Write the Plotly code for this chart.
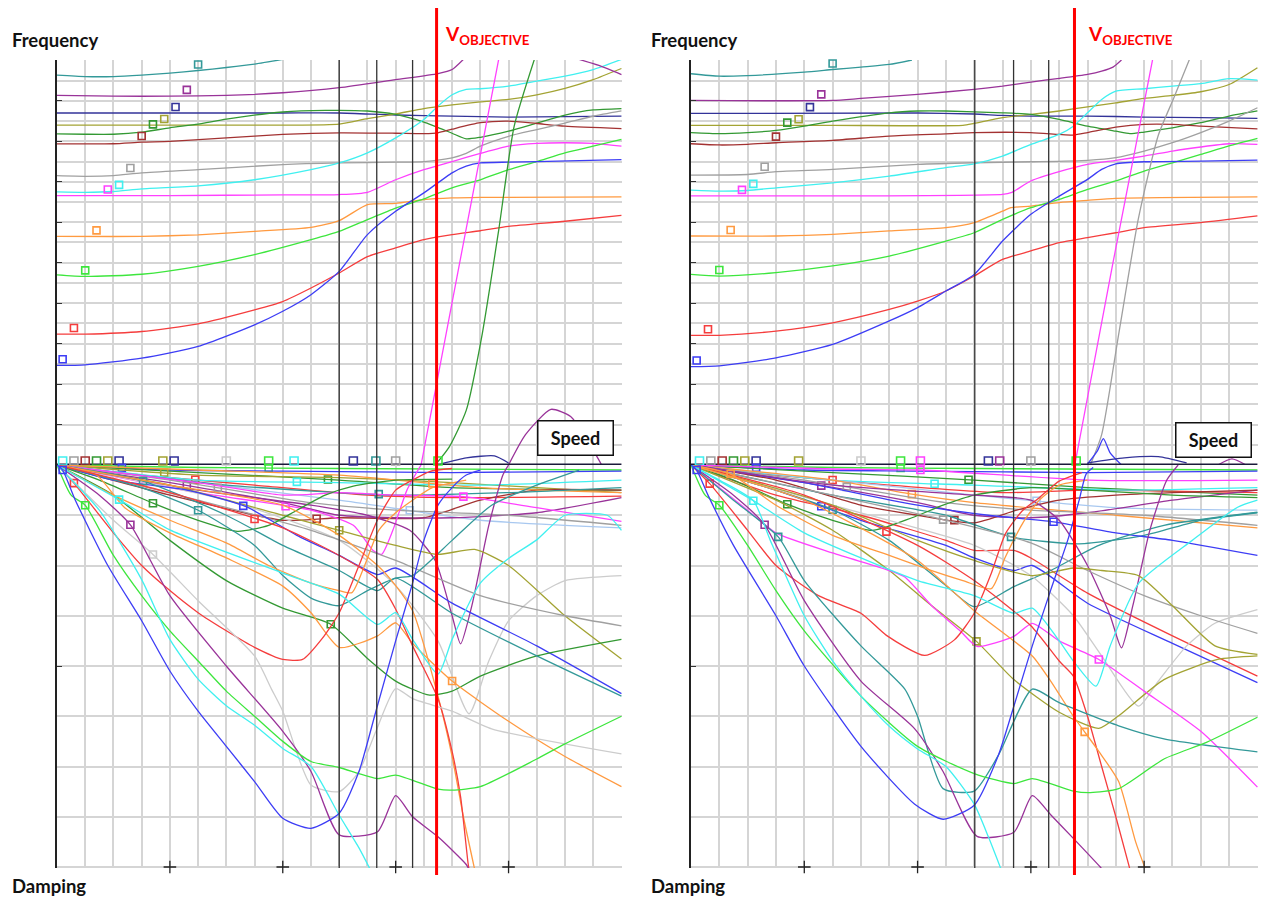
import numpy as np
import plotly.graph_objects as go

# ============================ DATA (grid units) ============================
# x: speed (0..20 grid units), frequency y: 0..20 grid units, damping y: 0..-8 grid units

# ---- Left panel : frequency
LF_TEAL = [(0,19.27),(1,19.2),(2,19.2),(3,19.27),(4,19.37),(5,19.5),(6,19.65),(7,19.82),(8,20.05)]
LF_PURPLE = [(0,18.27),(2,18.23),(4,18.23),(6,18.27),(8,18.4),(10,18.65),(12,19.05),(13.5,19.35),(14,19.55),(14.4,20.05)]
LF_NAVY = [(0,17.4),(4,17.4),(8,17.4),(10,17.4),(12,17.3),(14,17.25),(16,17.2),(18,17.22),(20,17.25)]
LF_OLIVE = [(0,16.8),(4,16.8),(8,16.8),(10,16.85),(11,17.12),(12,17.35),(13,17.62),(14,17.8),(15,17.95),(16,18.07),(17,18.3),(18,18.62),(19,19.05),(20,19.6)]
LF_DKGREEN = [(0,16.37),(1,16.35),(2,16.35),(3,16.45),(4,16.67),(5,16.85),(6,17.1),(8,17.45),(9.5,17.53),(11,17.5),(12,17.33),(13,16.95),(14,16.4),(14.5,16.12),(15,16.2),(16,16.5),(17,16.9),(18,17.3),(19,17.55),(20,17.62)]
LF_DKRED = [(0,15.87),(2,15.88),(3,15.96),(4,16.0),(6,16.17),(8,16.34),(10,16.42),(12,16.4),(13,16.38),(13.5,16.42),(14,16.6),(15,16.92),(16,17.0),(17,16.88),(18,16.75),(20,16.63)]
LF_GRAY = [(0,14.3),(1,14.27),(2,14.3),(3,14.44),(5,14.6),(8,14.85),(10,14.93),(12,14.97),(13,15.0),(14,15.18),(14.5,15.4),(15,15.76),(16,16.25),(17,16.58),(18,16.9),(19,17.24),(20,17.5)]
LF_CYAN = [(0,13.5),(1,13.48),(2,13.52),(3,13.65),(5,13.8),(7,14.1),(9,14.6),(10,14.93),(11,15.43),(12,16.17),(13,17.08),(13.5,17.74),(14,18.3),(14.5,18.57),(15,18.6),(16,18.73),(17,18.98),(18,19.22),(19,19.55),(20,20.05)]
LF_MAGENTA = [(0,13.32),(4,13.32),(8,13.35),(10,13.37),(11,13.48),(12,14.1),(13,14.6),(14,15.0),(15,15.4),(16,15.76),(17,15.9),(18,15.93),(19,15.9),(20,15.76)]
LF_ORANGE = [(0,11.3),(3,11.3),(5,11.38),(7,11.55),(9,11.75),(10,12.08),(11,12.87),(12,12.93),(13,13.12),(14,13.2),(15,13.23),(20,13.25)]
LF_LIME = [(0,9.4),(1,9.32),(3,9.43),(5,9.82),(7,10.4),(9,11.14),(10,11.55),(11,12.13),(12,12.7),(13,13.15),(14,13.7),(15,14.1),(16,14.6),(17,15.0),(18,15.43),(19,15.76),(20,16.1)]
LF_RED = [(0,6.47),(1,6.47),(3,6.6),(5,6.98),(7,7.67),(8,8.08),(9,8.75),(10,9.49),(11,10.3),(12,10.73),(13,11.14),(14,11.39),(15,11.58),(16,11.8),(18,12.05),(20,12.34)]
LF_BLUE = [(0,4.92),(1,4.95),(3,5.28),(5,5.86),(7,6.93),(8,7.6),(9,8.42),(10,9.57),(11,11.39),(12,12.54),(13,13.45),(14,14.44),(14.5,14.77),(15,14.93),(16,14.97),(17,15.0),(20,15.1)]
LF_MAG_STEEP = [(12.9,0),(14.2,9.5),(15.65,20.05)]
LF_DKGREEN_STEEP = [(13.4,0),(13.9,0.9),(14.5,2.7),(15.07,6.5),(15.65,11.6),(16.2,16.75),(16.95,20.2)]
LF_PURPLE_ARC = [(16.0,0),(16.6,1.5),(17.5,2.75),(18.2,2.4),(18.8,1.2),(19.3,0)]
LF_PURPLE_TOP = [(18.5,20.05),(19.2,19.75),(20,19.3)]
LF_NAVY_ARC = [(13.6,0.05),(14.5,0.35),(15.5,0.45),(16.0,0.1)]
LF_ZERO_MARK_X = [0.2,0.6,1.0,1.4,1.8,2.2,3.75,4.15,6.0,7.5,8.4,10.5,11.3,12.0,13.5]

# ---- Right panel : frequency
RF_TEAL = [(0,19.34),(1,19.22),(2,19.25),(4,19.42),(5,19.55),(6,19.67),(7,19.8),(7.8,20.02)]
RF_PURPLE = [(0,18.02),(5,18.02),(6,18.12),(8,18.32),(10,18.57),(11,18.73),(12,18.93),(13,19.11),(14,19.31),(14.5,19.47),(14.9,19.67),(15.2,20.02)]
RF_NAVY = [(0,17.38),(8,17.4),(10,17.35),(11,17.28),(12,17.25),(14,17.25),(16,17.2),(18,17.17),(20,17.13)]
RF_OLIVE = [(0,16.79),(5,16.79),(9.6,16.79),(10,16.89),(11,17.17),(12,17.33),(13,17.5),(14,17.7),(15,17.9),(16,18.12),(17,18.27),(18,18.45),(19,18.81),(20,19.64)]
RF_DKGREEN = [(0,16.43),(1,16.38),(2,16.43),(3,16.54),(4,16.75),(5,17.0),(7,17.41),(8,17.5),(9,17.5),(11,17.41),(12,17.33),(13,17.08),(14,16.75),(15,16.5),(15.5,16.38),(16,16.46),(17,16.67),(18,16.92),(19,17.25),(20,17.5)]
RF_DKRED = [(0,15.88),(1,15.82),(2,15.85),(3,15.93),(5,16.05),(7,16.26),(9,16.37),(10,16.43),(12,16.43),(13,16.34),(13.5,16.31),(14,16.43),(15,16.7),(16,16.84),(17,16.84),(18,16.75),(20,16.62)]
RF_GRAY = [(0,14.33),(2,14.36),(3,14.5),(5,14.61),(8,14.86),(10,14.94),(12,14.99),(14,15.06),(15,15.19),(16,15.52),(17,15.93),(18,16.43),(19,17.0),(20,17.66)]
RF_CYAN = [(0,13.59),(1,13.54),(2,13.57),(3,13.7),(5,13.95),(7,14.28),(9,14.7),(10,14.89),(11,15.27),(12,15.85),(13,16.34),(13.5,16.75),(14,17.41),(14.5,18.07),(15,18.48),(16,18.6),(17,18.73),(18,18.85),(19,19.1),(20,19.03)]
RF_MAGENTA = [(0,13.3),(5,13.3),(11,13.38),(11.3,13.46),(12,14.04),(13,14.5),(14,14.86),(15,15.06),(16,15.27),(17,15.52),(18,15.72),(19,15.88),(20,15.85)]
RF_ORANGE = [(0,11.32),(3,11.32),(5,11.4),(7,11.57),(9,11.73),(10,11.98),(11,12.55),(11.3,12.72),(12,12.8),(13,12.97),(14,13.08),(15,13.18),(20,13.25)]
RF_LIME = [(0,9.42),(1,9.34),(3,9.51),(5,9.84),(7,10.33),(9,11.07),(10,11.48),(11,12.14),(12,12.72),(13,13.13),(14,13.62),(15,14.04),(16,14.53),(17,14.94),(18,15.35),(19,15.77),(20,16.14)]
RF_RED = [(0,6.41),(1,6.41),(3,6.62),(5,7.03),(7,7.69),(8,8.1),(9,8.6),(10,9.34),(11,10.16),(12,10.58),(13,10.99),(14,11.24),(15,11.48),(16,11.73),(18,11.98),(20,12.31)]
RF_BLUE = [(0,4.86),(1,4.9),(3,5.3),(5,5.96),(7,7.12),(8,7.78),(9,8.6),(10,9.42),(11,11.07),(12,12.39),(13,13.29),(14,14.12),(14.5,14.61),(15,14.89),(16,14.99),(18,15.02),(20,15.07)]
RF_MAG_STEEP = [(13.55,0),(14.9,10),(16.3,20.05)]
RF_GRAY_STEEP = [(14.1,0),(14.5,1.5),(15.1,6.46),(15.8,12.2),(16.5,16.3),(17.05,18.15),(17.6,20.05)]
RF_BLUE_SPIKE = [(14.0,0.05),(14.35,0.7),(14.56,1.3),(14.8,0.6),(15.2,0.0)]
RF_NAVY_ARC = [(14.0,0.1),(15.3,0.35),(16.5,0.41),(17.5,0.1)]
RF_PURPLE_ARC = [(18.6,0),(19.1,0.3),(19.6,0)]
RF_ZERO_MARK_X = [0.3,0.7,1.1,1.5,1.9,2.3,3.8,6.0,7.4,8.1,10.5,10.9,12.0,13.6]

# ---- Left panel : damping
LD_BLUE = [(0,0),(0.2,-0.1),(0.65,-0.7),(1.8,-2.0),(3,-3.1),(4,-4.1),(5,-4.9),(6,-5.6),(7,-6.3),(8,-7.03),(9,-7.23),(10,-6.93),(10.7,-6.1),(11.3,-4.9),(12,-3.5),(12.6,-2.35),(13,-1.5),(13.5,-0.8),(14,-0.45),(14.5,-0.2),(15,-0.1)]
LD_CYAN = [(0,0),(1.5,-0.9),(3,-2.28),(4,-3.47),(5,-4.26),(6,-4.79),(7,-5.18),(8,-5.64),(9,-6.0),(10,-6.97),(10.7,-7.62),(11.1,-8.05)]
LD_CYAN_V = [(0,0),(2.2,-0.69),(4,-1.29),(8,-2.15),(10,-2.57),(11.36,-3.17),(12,-2.94),(12.6,-3.47),(13.5,-4.16),(14,-3.47),(15,-2.35),(16,-1.86),(17,-1.49),(18,-1.0),(19.5,-1.0),(20,-1.3)]
LD_LIME = [(0,0),(0.5,-0.6),(1,-0.8),(2,-1.8),(3,-2.6),(4,-3.3),(5,-3.9),(6,-4.5),(7,-5.0),(8,-5.5),(9,-5.9),(10,-6.02),(11.36,-6.24),(12,-6.17),(13.5,-6.45),(14,-6.47),(15,-6.4),(17,-5.85),(18,-5.55),(20,-5.0)]
LD_PURPLE = [(0,0),(1.5,-0.6),(2.6,-1.19),(4,-2.6),(6,-4.0),(8,-5.3),(9,-6.1),(10,-7.36),(11.36,-7.3),(12,-6.58),(12.6,-7.0),(13.5,-7.4),(14.5,-7.95),(14.6,-8.05)]
LD_LTGRAY = [(0,0),(2,-1.1),(3.4,-1.78),(5,-2.7),(7,-3.8),(7.6,-4.46),(8,-4.9),(9,-6.37),(10,-6.5),(10.7,-6.1),(11.3,-5.3),(12,-4.45),(12.6,-4.65),(14,-4.9),(15.4,-5.25),(20,-5.75)]
LD_RED_BOWL = [(0,0),(0.6,-0.36),(2,-1.35),(3,-2.0),(4,-2.5),(5,-2.94),(6,-3.3),(7,-3.63),(8,-3.87),(8.7,-3.87),(9.4,-3.45),(10,-2.94),(10.7,-2.0),(11.36,-1.09),(12,-0.5),(12.6,-0.3),(13.2,-0.13),(14,-0.07)]
LD_RED_STEEP = [(0,0),(4,-0.55),(8,-1.25),(10,-1.8),(11.36,-2.28),(12,-2.87),(12.6,-3.6),(13.5,-4.65),(14,-5.7),(14.3,-6.6),(14.56,-7.9),(14.6,-8.05)]
LD_ORANGE_A = [(0,0),(1.4,-0.2),(2.4,-0.85),(4,-1.35),(6,-1.85),(8,-2.41),(9,-2.94),(10,-3.63),(11.36,-3.4),(12,-3.14),(12.6,-3.55),(14,-4.3),(16,-5.1),(18,-5.8),(20,-6.4)]
LD_ORANGE_B = [(0,0),(2,-0.6),(4,-1.1),(6,-1.55),(7.5,-2.0),(9,-2.35),(10,-2.5),(10.45,-2.54),(10.9,-2.0),(11.4,-1.3),(12,-0.95),(12.6,-0.7),(13.3,-0.45),(14.5,-0.3)]
LD_ORANGE_C = [(0,0),(4,-0.4),(8,-0.8),(10,-1.4),(11.36,-2.0),(12,-2.4),(12.6,-2.9),(13.5,-4.6),(14,-5.8),(14.4,-7.0),(14.8,-8.05)]
LD_TEAL = [(0,0),(3,-0.45),(5,-0.9),(7,-1.6),(8,-2.2),(9,-2.65),(10,-2.8),(11,-2.5),(12,-2.25),(12.6,-2.2),(14,-1.5),(15.4,-0.8),(17,-0.4),(18.5,-0.1)]
LD_TEAL2 = [(0,0),(3,-0.31),(6,-1.0),(8,-1.6),(10,-2.1),(11.36,-2.5),(12,-2.25),(14,-2.95),(17,-3.8),(20,-4.6)]
LD_DKGREEN_A = [(0,0),(1.5,-0.3),(3.4,-0.76),(5,-1.1),(6.4,-1.32),(7.5,-1.2),(8.5,-0.9),(9.5,-0.6),(10.5,-0.42),(12,-0.3),(14,-0.28)]
LD_DKGREEN_B = [(0,0),(2,-0.6),(4,-1.5),(6,-2.3),(8,-2.85),(9.7,-3.17),(11,-3.85),(12,-4.3),(13.2,-4.58),(14,-4.5),(15,-4.2),(17,-3.8),(20,-3.47)]
LD_BLUE_DIAG = [(0,0),(2,-0.3),(4.6,-0.5),(6.7,-0.83),(8.5,-1.4),(10,-1.8),(11.36,-2.18),(12,-2.05),(14,-2.75),(17,-3.6),(20,-4.55)]
LD_GRAY = [(0,0),(5,-0.7),(9,-1.3),(12,-1.9),(15,-2.6),(18,-3.0),(20,-3.2)]
LD_OLIVE = [(0,0),(4,-0.4),(8,-1.0),(10,-1.3),(12,-1.6),(13.5,-1.78),(14.8,-1.68),(16,-2.0),(18,-3.0),(20,-3.86)]
LD_PURPLE_V = [(0,0),(5,-0.5),(9,-0.8),(11,-1.0),(12.5,-1.3),(13.4,-1.9),(14,-3.0),(14.3,-3.56),(14.7,-2.8),(15.3,-1.2),(15.8,-0.2),(16,0)]
LD_LTGRAY_V = [(0,0),(6,-0.7),(10,-1.5),(12,-2.4),(13.5,-3.5),(14.6,-4.95),(15.3,-3.9),(16,-3.1),(17,-2.6),(18,-2.3),(20,-2.2)]
LD_MAGENTA_DIP = [(0,0),(5,-0.55),(9,-0.9),(10.5,-1.2),(11.2,-1.7),(11.5,-1.78),(11.9,-1.3),(12.4,-0.5),(12.9,0.0)]
LD_MAGENTA = [(0,0),(5,-0.35),(8,-0.6),(10,-0.55),(12,-0.6),(14.4,-0.63),(17,-0.85),(20,-1.12)]
LD_FAN_LIME = [(0,0),(5,-0.05),(10,-0.07),(20,-0.1)]
LD_FAN_BLUE = [(0,0),(4,-0.1),(8,-0.12),(14,-0.15),(20,-0.12)]
LD_FAN_DKGREEN = [(0,0),(5,-0.15),(10,-0.3),(14,-0.45),(20,-0.5)]
LD_FAN_OLIVE = [(0,0),(5,-0.2),(10,-0.25),(14,-0.35),(20,-0.55)]
LD_FAN_RED = [(0,0),(3,-0.2),(7,-0.4),(11,-0.6),(14,-0.65),(20,-0.62)]
LD_FAN_CYAN = [(0,0),(5,-0.3),(10,-0.35),(15,-0.4),(20,-0.3)]
LD_FAN_LTBLUE = [(0,0),(5,-0.35),(10,-0.7),(15,-1.1),(20,-1.25)]
LD_FAN_DKRED = [(0,0),(4,-0.6),(8,-1.1),(10,-1.05),(13,-1.05),(15,-0.7),(17,-0.5),(20,-0.5)]
LD_FAN_ORANGE = [(0,0),(5,-0.1),(10,-0.2),(15,-0.45),(20,-0.55)]
LD_FAN_TEAL = [(0,0),(6,-0.4),(12,-0.6),(16,-0.55),(20,-0.45)]
LD_FAN_PURPLE = [(0,0),(4,-0.35),(8,-0.75),(10,-1.0),(12,-1.05),(14,-1.05),(17,-0.95),(20,-0.65)]
LD_FAN_GRAY = [(0,0),(4,-0.3),(9,-0.75),(12,-0.9),(16,-1.0),(20,-1.2)]

# ---- Right panel : damping
RD_BLUE = [(0,0),(0.2,-0.1),(0.6,-0.6),(1.5,-1.6),(3,-3.0),(4,-4.0),(6,-5.6),(7.9,-6.75),(8.9,-7.05),(10,-6.77),(10.85,-5.78),(11.4,-4.8),(12.05,-3.6),(12.7,-2.49),(13.3,-1.5),(13.7,-0.71),(13.95,-0.18),(14.2,-0.05)]
RD_CYAN = [(0,0),(1,-0.3),(2.2,-0.71),(2.8,-1.5),(4,-3.0),(5,-3.9),(6,-4.6),(7,-5.2),(8,-5.65),(9,-6.0),(10,-6.75),(10.5,-7.4),(10.95,-8.05)]
RD_CYAN_V = [(0,0),(2.2,-0.71),(4,-1.35),(6,-1.85),(8,-2.3),(10,-2.6),(11.4,-2.95),(12.05,-2.85),(13,-3.5),(13.5,-3.9),(14.3,-4.4),(14.8,-3.6),(15.8,-2.36),(17.7,-1.5),(19.3,-0.84),(20,-0.7)]
RD_LIME = [(0,0),(0.5,-0.6),(1,-0.8),(2,-1.6),(3,-2.5),(4,-3.3),(6,-4.6),(8,-5.6),(10,-6.14),(11.4,-6.34),(12.05,-6.24),(13.5,-6.49),(14.1,-6.52),(15.1,-6.44),(16.7,-5.85),(18.2,-5.52),(20,-5.02)]
RD_PURPLE = [(0,0),(1.5,-0.6),(2.6,-1.19),(4,-2.7),(6,-4.3),(7.9,-5.25),(8.9,-6.1),(10.1,-7.39),(11.4,-7.31),(12.05,-6.58),(12.7,-6.96),(13.5,-7.43),(14.45,-8.0),(14.6,-8.1)]
RD_TEAL_DEEP = [(0,0),(1.5,-0.7),(3.08,-1.43),(4,-2.3),(6,-3.6),(7.55,-4.46),(8,-5.0),(8.9,-6.44),(10,-6.49),(10.85,-5.78),(12.05,-4.46),(13,-4.73),(15.1,-5.19),(16.7,-5.45),(20,-5.71)]
RD_RED_BOWL = [(0,0),(0.66,-0.37),(2,-1.3),(3,-2.0),(4.5,-2.6),(6,-2.95),(6.9,-3.39),(8.25,-3.79),(9.3,-3.48),(10,-2.95),(10.6,-2.16),(11.1,-1.37),(11.7,-0.91),(12.3,-0.65),(13,-0.32),(13.8,-0.15)]
RD_ORANGE_BOWL = [(0,0),(1.4,-0.18),(3,-0.8),(5,-1.4),(7,-1.8),(8.5,-2.1),(9.6,-2.3),(10.6,-2.46),(11.1,-1.83),(11.7,-1.17),(12.3,-0.7),(13,-0.4),(14,-0.3)]
RD_ORANGE_STEEP = [(0,0),(4,-0.7),(8,-1.9),(10,-2.9),(12.05,-3.8),(12.7,-4.3),(13.5,-5.0),(14.4,-5.7),(15.1,-6.3),(15.7,-7.5),(16.05,-8.05)]
RD_RED_STEEP = [(0,0),(4,-0.6),(8,-1.6),(10,-2.3),(12,-3.2),(13,-3.9),(13.5,-4.2),(14,-5.0),(14.5,-6.0),(15,-7.0),(15.5,-8.05)]
RD_MAGENTA = [(0,0),(2,-0.9),(3,-1.35),(5,-1.75),(7,-2.1),(7.55,-2.23),(8.5,-2.8),(9.5,-3.3),(10.1,-3.61),(11.4,-3.41),(12.05,-3.15),(13,-3.5),(14.4,-3.87),(16,-4.5),(18,-5.3),(20,-6.41)]
RD_OLIVE_DEEP = [(0,0),(3,-0.7),(5,-1.3),(7,-2.1),(8.5,-2.8),(10.08,-3.51),(11.4,-4.27),(13,-4.92),(14.4,-5.24),(15.1,-4.99),(16.7,-4.27),(18.6,-3.87),(20,-3.8)]
RD_OLIVE2 = [(0,0),(5,-0.8),(8,-1.5),(10,-1.9),(12,-2.2),(13.5,-2.05),(14.5,-2.1),(15.8,-2.2),(17,-2.8),(18.5,-3.6),(20,-3.77)]
RD_GRAY = [(0,0),(5,-0.6),(9,-1.1),(12,-1.55),(14,-2.1),(16,-2.6),(18,-3.0),(20,-3.35)]
RD_LTGRAY_V = [(0,0),(5,-0.8),(10,-1.6),(12,-2.2),(13.5,-3.0),(14.5,-3.8),(15.8,-4.8),(16.5,-4.3),(17.5,-3.6),(18.5,-3.15),(20,-2.88)]
RD_PURPLE_V = [(0,0),(5,-0.4),(10,-0.6),(12,-0.7),(13,-1.1),(14,-2.0),(14.8,-3.0),(15.2,-3.64),(15.6,-2.8),(16.2,-1.3),(16.8,-0.3),(17.2,0)]
RD_TEAL_MID = [(0,0),(3,-0.5),(5,-0.89),(7,-1.5),(9,-2.4),(10,-2.82),(11.4,-2.42),(12.7,-2.1),(14.4,-1.6),(16.7,-1.2),(20,-0.94)]
RD_DKGREEN_A = [(0,0),(1.5,-0.3),(3.4,-0.78),(5,-1.1),(6.4,-1.3),(7.8,-1.05),(8.9,-0.8),(10,-0.6),(12,-0.45),(14,-0.5),(17,-0.6),(20,-0.65)]
RD_BLUE_DIAG = [(0,0),(3,-0.5),(6,-1.1),(9,-1.6),(10,-1.85),(11.4,-2.1),(12.05,-2.0),(14,-2.75),(17,-3.55),(20,-4.33)]
RD_RED_DIAG = [(0,0),(3,-0.6),(6,-1.0),(9,-1.5),(10,-1.7),(11.4,-1.7),(12,-1.85),(14,-2.55),(17,-3.4),(20,-4.2)]
RD_BLUE2 = [(0,0),(4,-0.35),(8,-0.8),(10.5,-1.0),(12.8,-1.13),(15,-1.35),(17,-1.5),(20,-1.8)]
RD_TEAL2 = [(0,0),(5,-0.6),(9,-1.0),(11.3,-1.43),(13.7,-1.57),(16,-1.4),(18,-1.1),(20,-0.95)]
RD_DKRED = [(0,0),(3,-0.3),(6,-0.8),(8,-1.0),(10,-1.15),(11.5,-0.9),(13,-0.7),(15,-0.6),(17,-0.55),(20,-0.5)]
RD_FAN_LIME = [(0,0),(5,-0.05),(10,-0.07),(20,-0.1)]
RD_FAN_BLUE = [(0,0),(4,-0.1),(8,-0.12),(14,-0.15),(20,-0.12)]
RD_FAN_DKGREEN = [(0,0),(5,-0.15),(10,-0.3),(14,-0.45),(20,-0.6)]
RD_FAN_RED = [(0,0),(3,-0.2),(7,-0.4),(11,-0.55),(14,-0.5),(20,-0.55)]
RD_FAN_CYAN = [(0,0),(5,-0.3),(10,-0.4),(15,-0.5),(20,-0.45)]
RD_FAN_LTBLUE = [(0,0),(5,-0.3),(10,-0.6),(15,-0.85),(20,-0.9)]
RD_FAN_ORANGE = [(0,0),(5,-0.3),(7.8,-0.58),(10,-0.75),(15,-1.0),(20,-1.25)]
RD_FAN_MAGENTA = [(0,0),(5,-0.08),(8.1,-0.1),(14,-0.3),(20,-0.3)]
RD_FAN_PURPLE = [(0,0),(4,-0.35),(8,-0.75),(10,-1.0),(12,-1.05),(14,-0.95),(17,-0.7),(20,-0.5)]
RD_FAN_GRAY = [(0,0),(4,-0.3),(9,-0.75),(12,-0.9),(16,-1.0),(20,-1.2)]

# crosses on the bottom axis and speed markers
X_TICKS = [4, 8, 12, 16]
L_BLACK_SPEEDS = [10.0, 11.33, 12.6]
L_V_OBJECTIVE = 13.45
R_BLACK_SPEEDS = [10.02, 11.39, 12.63]
R_V_OBJECTIVE = 13.54

# ============================ STYLE ============================
COL = dict(blue='#3d3df5', red='#f53d3d', lime='#3de63d', orange='#ff9a40', magenta='#ff40ff',
           cyan='#40f0f0', gray='#a0a0a0', dkred='#a33232', dkgreen='#339933', olive='#a3a333',
           navy='#333399', purple='#993399', teal='#339999', ltgray='#cccccc', ltblue='#a8c8f0')

LEFT_FREQ = [(LF_TEAL,'teal',5.0),(LF_PURPLE,'purple',4.6),(LF_NAVY,'navy',4.2),(LF_OLIVE,'olive',3.8),
             (LF_DKGREEN,'dkgreen',3.4),(LF_DKRED,'dkred',3.0),(LF_GRAY,'gray',2.6),(LF_CYAN,'cyan',2.2),
             (LF_MAGENTA,'magenta',1.8),(LF_ORANGE,'orange',1.4),(LF_LIME,'lime',1.0),(LF_RED,'red',0.6),
             (LF_BLUE,'blue',0.2),(LF_MAG_STEEP,'magenta',None),(LF_DKGREEN_STEEP,'dkgreen',None),
             (LF_PURPLE_ARC,'purple',None),(LF_PURPLE_TOP,'purple',None),(LF_NAVY_ARC,'navy',None)]
RIGHT_FREQ = [(RF_TEAL,'teal',5.0),(RF_PURPLE,'purple',4.6),(RF_NAVY,'navy',4.2),(RF_OLIVE,'olive',3.8),
              (RF_DKGREEN,'dkgreen',3.4),(RF_DKRED,'dkred',3.0),(RF_GRAY,'gray',2.6),(RF_CYAN,'cyan',2.2),
              (RF_MAGENTA,'magenta',1.8),(RF_ORANGE,'orange',1.4),(RF_LIME,'lime',1.0),(RF_RED,'red',0.6),
              (RF_BLUE,'blue',0.2),(RF_MAG_STEEP,'magenta',None),(RF_GRAY_STEEP,'gray',None),
              (RF_BLUE_SPIKE,'blue',None),(RF_NAVY_ARC,'navy',None),(RF_PURPLE_ARC,'purple',None)]
LEFT_DAMP = [(LD_FAN_LIME,'lime',7.5),(LD_FAN_BLUE,'blue',2.3),(LD_FAN_DKGREEN,'dkgreen',9.6),(LD_FAN_OLIVE,'olive',3.8),
             (LD_FAN_RED,'red',4.9),(LD_FAN_CYAN,'cyan',8.5),(LD_FAN_LTBLUE,'ltblue',12.5),(LD_FAN_DKRED,'dkred',9.2),
             (LD_FAN_ORANGE,'orange',13.3),(LD_FAN_TEAL,'teal',11.4),(LD_FAN_PURPLE,'purple',4.6),(LD_FAN_GRAY,'gray',5.7),
             (LD_MAGENTA,'magenta',14.4),(LD_MAGENTA_DIP,'magenta',8.1),(LD_LTGRAY_V,'ltgray',None),(LD_PURPLE_V,'purple',None),
             (LD_OLIVE,'olive',10.0),(LD_GRAY,'gray',None),(LD_BLUE_DIAG,'blue',6.6),(LD_DKGREEN_A,'dkgreen',3.4),
             (LD_DKGREEN_B,'dkgreen',9.7),(LD_TEAL2,'teal',3.05),(LD_TEAL,'teal',5.0),(LD_ORANGE_C,'orange',None),
             (LD_ORANGE_B,'orange',None),(LD_ORANGE_A,'orange',14.0),(LD_RED_STEEP,'red',7.0),(LD_RED_BOWL,'red',0.6),
             (LD_LTGRAY,'ltgray',3.4),(LD_PURPLE,'purple',2.6),(LD_LIME,'lime',1.0),(LD_CYAN_V,'cyan',2.2),
             (LD_CYAN,'cyan',None),(LD_BLUE,'blue',0.2)]
RIGHT_DAMP = [(RD_FAN_LIME,'lime',7.4),(RD_FAN_BLUE,'blue',2.3),(RD_FAN_DKGREEN,'dkgreen',9.8),(RD_FAN_RED,'red',5.0),
              (RD_FAN_CYAN,'cyan',8.6),(RD_FAN_LTBLUE,'ltblue',12.2),(RD_FAN_ORANGE,'orange',7.8),(RD_FAN_MAGENTA,'magenta',8.1),
              (RD_FAN_PURPLE,'purple',4.6),(RD_FAN_GRAY,'gray',5.5),(RD_DKRED,'dkred',9.3),(RD_TEAL2,'teal',11.3),
              (RD_BLUE2,'blue',12.8),(RD_RED_DIAG,'red',None),(RD_BLUE_DIAG,'blue',4.6),(RD_DKGREEN_A,'dkgreen',3.4),
              (RD_TEAL_MID,'teal',5.0),(RD_PURPLE_V,'purple',None),(RD_LTGRAY_V,'ltgray',None),(RD_GRAY,'gray',8.9),
              (RD_OLIVE2,'olive',None),(RD_OLIVE_DEEP,'olive',10.08),(RD_MAGENTA,'magenta',14.4),(RD_RED_STEEP,'red',6.9),
              (RD_ORANGE_STEEP,'orange',13.9),(RD_ORANGE_BOWL,'orange',1.4),(RD_RED_BOWL,'red',0.66),(RD_TEAL_DEEP,'teal',3.08),
              (RD_PURPLE,'purple',2.6),(RD_LIME,'lime',1.0),(RD_CYAN_V,'cyan',None),(RD_CYAN,'cyan',2.2),(RD_BLUE,'blue',0.2)]
ZERO_MARK_COLS_L = ['cyan','gray','dkred','dkgreen','olive','navy','olive','navy','ltgray','lime','cyan','navy','teal','gray','lime']
ZERO_MARK_COLS_R = ['cyan','gray','dkred','dkgreen','olive','navy','olive','ltgray','lime','magenta','navy','purple','gray','lime']

# The page body has an 8px margin: the figure is laid out in screen pixels minus that offset.
OFF = 8
W, H = 1258, 891


def px(x):
    return (x - OFF) / W


def py(y):
    return 1 - (y - OFF) / H


LX = [px(57), px(622)]
RX = [px(691), px(1258)]
FY = [py(465), py(60)]
DY = [py(868), py(465)]

fig = go.Figure()


def add_curve(pts, cname, xa, ya, mx, moff):
    xs = [p[0] for p in pts]
    ys = [p[1] for p in pts]
    c = COL[cname]
    fig.add_trace(go.Scatter(x=xs, y=ys, mode='lines', xaxis=xa, yaxis=ya,
                             line=dict(color=c, width=1.3, shape='spline', smoothing=0.6),
                             hoverinfo='skip', showlegend=False))
    if mx is not None:
        my = float(np.interp(mx, xs, ys))
        fig.add_trace(go.Scatter(x=[mx], y=[my + moff], mode='markers', xaxis=xa, yaxis=ya,
                                 marker=dict(symbol='square-open', size=7, color=c, line=dict(width=1.6, color=c)),
                                 hoverinfo='skip', showlegend=False, cliponaxis=False))


for pts, cn, mx in LEFT_DAMP:
    add_curve(pts, cn, 'x2', 'y2', mx, 0.0)
for pts, cn, mx in RIGHT_DAMP:
    add_curve(pts, cn, 'x4', 'y4', mx, 0.0)
for pts, cn, mx in LEFT_FREQ:
    add_curve(pts, cn, 'x', 'y', mx, 0.3)
for pts, cn, mx in RIGHT_FREQ:
    add_curve(pts, cn, 'x3', 'y3', mx, 0.3)

# zero line (thick) + small squares sitting on it
for xa, ya, xs, cols in (('x', 'y', LF_ZERO_MARK_X, ZERO_MARK_COLS_L), ('x3', 'y3', RF_ZERO_MARK_X, ZERO_MARK_COLS_R)):
    fig.add_trace(go.Scatter(x=[0, 20], y=[0, 0], mode='lines', xaxis=xa, yaxis=ya,
                             line=dict(color='#1a1a3a', width=3), hoverinfo='skip', showlegend=False))
    fig.add_trace(go.Scatter(x=xs, y=[0.2] * len(xs), mode='markers', xaxis=xa, yaxis=ya,
                             marker=dict(symbol='square-open', size=8, color=[COL[c] for c in cols],
                                         line=dict(width=1.6, color=[COL[c] for c in cols])),
                             hoverinfo='skip', showlegend=False, cliponaxis=False))
    fig.add_trace(go.Scatter(x=[20.25], y=[0], mode='markers', xaxis=xa, yaxis=ya,
                             marker=dict(symbol='triangle-right-open', size=9, color='#333', line=dict(width=1.2)),
                             hoverinfo='skip', showlegend=False, cliponaxis=False))
    fig.add_trace(go.Scatter(x=[0], y=[20.3], mode='markers', xaxis=xa, yaxis=ya,
                             marker=dict(symbol='triangle-up-open', size=9, color='#333', line=dict(width=1.2)),
                             hoverinfo='skip', showlegend=False, cliponaxis=False))

for xa, ya in (('x2', 'y2'), ('x4', 'y4')):
    fig.add_trace(go.Scatter(x=X_TICKS, y=[-8] * len(X_TICKS), mode='markers', xaxis=xa, yaxis=ya,
                             marker=dict(symbol='cross-thin-open', size=9, color='#222', line=dict(width=1.3, color='#222')),
                             hoverinfo='skip', showlegend=False, cliponaxis=False))
    fig.add_trace(go.Scatter(x=[0], y=[-8.12], mode='markers', xaxis=xa, yaxis=ya,
                             marker=dict(symbol='triangle-down-open', size=9, color='#333', line=dict(width=1.2)),
                             hoverinfo='skip', showlegend=False, cliponaxis=False))

GRID = '#d5d5d5'


def xax(dom, anchor):
    return dict(domain=dom, anchor=anchor, range=[0, 20.02], showticklabels=False, ticks='',
                showgrid=True, gridcolor=GRID, gridwidth=1.5, dtick=1, tick0=0, zeroline=False,
                showline=False, fixedrange=True)


def yfreq(anchor):
    return dict(domain=FY, anchor=anchor, range=[0, 20.02], showticklabels=False, ticks='inside',
                ticklen=5, tickcolor='#333', dtick=2, tick0=0, showgrid=True, gridcolor=GRID, gridwidth=1.5,
                minor=dict(dtick=1, showgrid=True, gridcolor=GRID, gridwidth=1.5),
                zeroline=False, showline=True, linecolor='#222', linewidth=1.5)


def ydamp(anchor):
    return dict(domain=DY, anchor=anchor, range=[-8.02, 0], showticklabels=False, ticks='inside',
                ticklen=5, tickcolor='#333', tickvals=[-4], showgrid=True, gridcolor=GRID, gridwidth=1.5,
                minor=dict(dtick=1, tick0=0, showgrid=True, gridcolor=GRID, gridwidth=1.5),
                zeroline=False, showline=True, linecolor='#222', linewidth=1.5)


shapes = []
for xr, blacks, vobj in (('x', L_BLACK_SPEEDS, L_V_OBJECTIVE), ('x3', R_BLACK_SPEEDS, R_V_OBJECTIVE)):
    for b in blacks:
        shapes.append(dict(type='line', xref=xr, yref='paper', x0=b, x1=b, y0=DY[0], y1=FY[1],
                           line=dict(color='#333333', width=1.3), layer='above'))
    shapes.append(dict(type='line', xref=xr, yref='paper', x0=vobj, x1=vobj, y0=py(875), y1=py(8),
                       line=dict(color='#ff0000', width=3), layer='above'))

FONT = 'Lato, Open Sans, sans-serif'
ann = []
for x0 in (10, 649):
    ann.append(dict(text='<b>Frequency</b>', xref='paper', yref='paper', x=px(x0), y=py(40),
                    xanchor='left', yanchor='middle', showarrow=False, font=dict(family=FONT, size=18.5, color='#111')))
    ann.append(dict(text='<b>Damping</b>', xref='paper', yref='paper', x=px(x0), y=py(886),
                    xanchor='left', yanchor='middle', showarrow=False, font=dict(family=FONT, size=18.5, color='#111')))
for x0 in (443, 1086):
    ann.append(dict(text='<b>V<sub>OBJECTIVE</sub></b>', xref='paper', yref='paper', x=px(x0), y=py(35),
                    xanchor='left', yanchor='middle', showarrow=False, font=dict(family=FONT, size=19, color='#ff0000')))
for cx, cy in ((575, 438), (1213, 440)):
    ann.append(dict(text='<b>Speed</b>', xref='paper', yref='paper', x=px(cx), y=py(cy), xanchor='center', yanchor='middle',
                    showarrow=False, width=72, height=31, bgcolor='white', bordercolor='#111', borderwidth=1.5,
                    borderpad=1, font=dict(family=FONT, size=18, color='#111')))

fig.update_layout(
    width=W, height=H, margin=dict(l=0, r=0, t=0, b=0),
    paper_bgcolor='white', plot_bgcolor='white', showlegend=False,
    xaxis=xax(LX, 'y'), xaxis2=xax(LX, 'y2'), xaxis3=xax(RX, 'y3'), xaxis4=xax(RX, 'y4'),
    yaxis=yfreq('x'), yaxis2=ydamp('x2'), yaxis3=yfreq('x3'), yaxis4=ydamp('x4'),
    shapes=shapes, annotations=ann,
)

fig.write_html('out.html')
